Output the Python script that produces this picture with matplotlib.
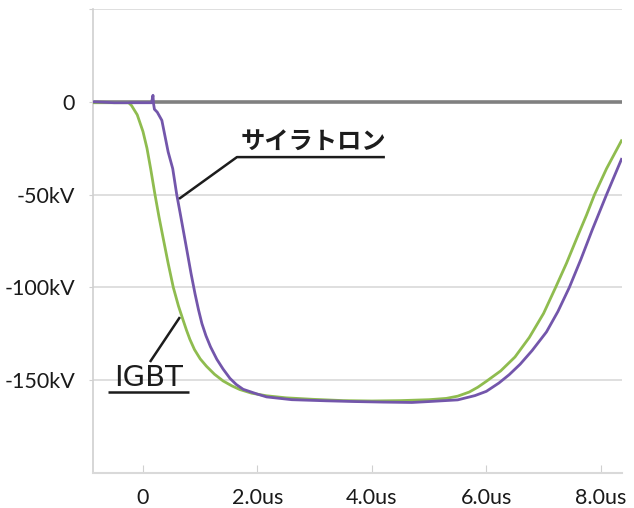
import matplotlib
matplotlib.use("Agg")
import matplotlib.pyplot as plt

# ---- data (time in us, voltage in kV) ----
igbt_t = [-0.87, -0.5, -0.25, -0.2, -0.1, 0.0, 0.07, 0.134, 0.21, 0.28, 0.35, 0.44, 0.53,
          0.62, 0.70, 0.76, 0.82, 0.90, 1.0, 1.11, 1.25, 1.40, 1.55, 1.69, 1.9, 2.16, 2.5,
          2.97, 3.5, 4.0, 4.5, 5.0, 5.3, 5.5, 5.7, 5.85, 6.0, 6.25, 6.5, 6.75, 7.0, 7.21,
          7.4, 7.6, 7.75, 7.89, 8.1, 8.36]
igbt_v = [-0.5, -0.5, -0.5, -2, -7, -16, -25, -36, -50, -62, -73, -87, -100,
          -110, -117.5, -123, -128, -133.5, -138.5, -142.5, -146.8, -150.4, -153, -155, -157, -158.4, -159.5,
          -160.3, -161, -161.2, -161, -160.5, -159.8, -158.6, -156.4, -153.8, -150.6, -145, -137.5, -127, -114, -100,
          -87, -72, -61, -50, -36, -21]

thy_t = [-0.87, -0.5, 0.0, 0.15, 0.175, 0.185, 0.20, 0.25, 0.33, 0.44, 0.52, 0.59, 0.65,
         0.75, 0.84, 0.91, 0.97, 1.03, 1.10, 1.18, 1.29, 1.40, 1.52, 1.63, 1.75, 2.0, 2.16, 2.6, 3.2,
         3.7, 4.2, 4.7, 5.0, 5.5, 5.8, 6.0, 6.22, 6.4, 6.59, 6.8, 7.05, 7.25, 7.45, 7.65, 7.85,
         8.10, 8.36]
thy_v = [0, -0.5, -0.5, -0.5, 3.5, -1, -4, -5.6, -10, -27, -36, -50, -60,
         -77, -92.5, -103.5, -112, -119.5, -126, -132, -138.7, -144, -149, -152.3, -154.9, -157.5, -159, -160.5, -161.1,
         -161.5, -161.8, -162, -161.5, -160.6, -158.3, -156, -151.5, -147, -141.4, -134, -124, -113, -100, -85, -69,
         -50, -31]

x_ticks = [0, 2, 4, 6, 8]
x_labels = ["0", "2.0us", "4.0us", "6.0us", "8.0us"]
y_ticks = [50, 0, -50, -100, -150]
y_labels = ["", "0", "-50kV", "-100kV", "-150kV"]

label_thy = "サイラトロン"
label_igbt = "IGBT"

# ---- figure ----
fig = plt.figure(figsize=(6.34, 5.08), dpi=100)
ax = fig.add_axes([93/634, 1-473/508, (622-93)/634, (473-9)/508])

ax.set_xlim(-0.873, 8.37)
ax.set_ylim(-200, 50)

ax.set_yticks(y_ticks)
ax.set_yticklabels(y_labels)
ax.set_xticks(x_ticks)
ax.set_xticklabels(x_labels)

for lab in ax.get_xticklabels() + ax.get_yticklabels():
    lab.set_fontfamily("Lato")
    lab.set_fontsize(15.5)
    lab.set_color("#1a1a1a")

ax.tick_params(axis="y", direction="out", length=3, color="#d0d0d0", pad=10)
ax.tick_params(axis="x", direction="in", length=6, color="#d0d0d0", pad=11)

ax.grid(axis="y", color="#d9d9d9", lw=1.2)
ax.set_axisbelow(True)
ax.axhline(0, color="#808080", lw=2.6, zorder=1.5)

for s in ["top", "right"]:
    ax.spines[s].set_visible(False)
ax.spines["left"].set_color("#d0d0d0")
ax.spines["left"].set_linewidth(1.2)
ax.spines["bottom"].set_color("#d9d9d9")
ax.spines["bottom"].set_linewidth(1.5)

ax.plot(igbt_t, igbt_v, color="#8fbc4f", lw=2.0, zorder=3)
ax.plot(thy_t, thy_v, color="#7356ab", lw=2.0, zorder=4)

# ---- annotations ----
ink = "#1c1c1c"
ax.plot([0.63, 1.642, 4.227], [-52.3, -29.8, -29.8], color=ink, lw=1.8, zorder=5,
        solid_capstyle="butt")
ax.text(1.70, -21.5, label_thy, fontsize=17.5, family=["Noto Sans CJK JP", "DejaVu Sans"],
        weight="bold", color=ink, ha="left", va="center", zorder=6)

ax.plot([0.122, 0.646], [-140.2, -116.0], color=ink, lw=1.8, zorder=5, solid_capstyle="butt")
ax.plot([-0.611, 0.803], [-156.5, -156.5], color=ink, lw=1.8, zorder=5, solid_capstyle="butt")
ax.text(0.096, -148.7, label_igbt, fontsize=21, family=["DejaVu Sans"],
        color=ink, ha="center", va="center", zorder=6)

fig.savefig("out.png", dpi=100)
